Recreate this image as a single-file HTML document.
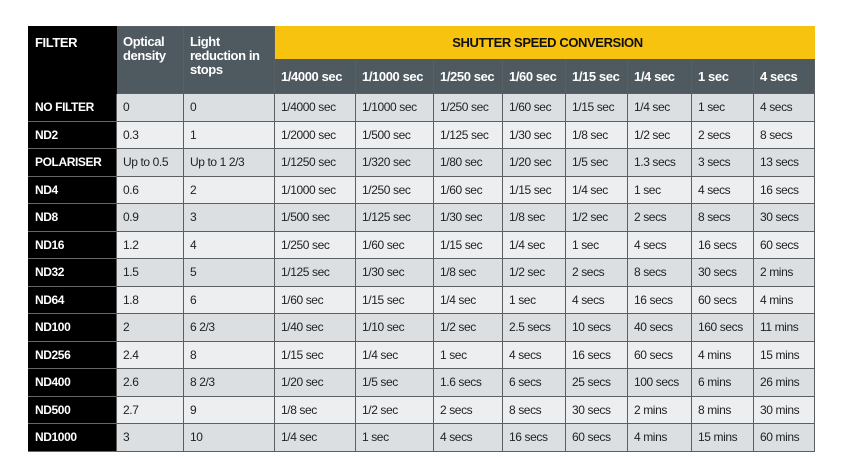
<!DOCTYPE html>
<html><head><meta charset="utf-8"><style>
body{margin:0;width:850px;height:472px;background:#fff;overflow:hidden;font-family:"Liberation Sans",sans-serif;}
table{position:absolute;left:28px;top:26px;border-collapse:collapse;table-layout:fixed;width:786px;}
td,th{padding:0 0 0 6px;font-size:12px;letter-spacing:-0.4px;color:#222;text-align:left;white-space:nowrap;overflow:hidden;border:1px solid #5c5f62;}
th{background:#4f5960;color:#fff;font-weight:bold;font-size:13px;vertical-align:middle;}
th.f{background:#000;vertical-align:top;padding-top:8px;font-size:13px;border-color:#000;}
th.g{vertical-align:top;padding-top:8px;line-height:14px;white-space:normal;}
th.y{background:#f7c30f;color:#111;text-align:center;height:31px;border-color:#f7c30f;}
tbody td.n{background:#000;color:#fff;font-weight:bold;border-left-color:#000;border-top-color:#666;border-bottom-color:#666;}
tbody tr{height:27.5px;}
tbody tr:nth-child(odd) td{background:#dcdfe2;}
tbody tr:nth-child(even) td{background:#eceef0;}
tbody tr td.n{background:#000 !important;}
</style></head><body>
<table>
<colgroup><col style="width:88px"><col style="width:67px"><col style="width:91px"><col style="width:81px"><col style="width:78px"><col style="width:69px"><col style="width:63px"><col style="width:62px"><col style="width:64px"><col style="width:62px"><col style="width:61px"></colgroup>
<thead>
<tr><th class="f" rowspan="2">FILTER</th>
<th class="g" rowspan="2">Optical density</th>
<th class="g" rowspan="2">Light reduction in stops</th>
<th class="y" colspan="8">SHUTTER SPEED CONVERSION</th></tr>
<tr style="height:35px"><th>1/4000 sec</th><th>1/1000 sec</th><th>1/250 sec</th><th>1/60 sec</th><th>1/15 sec</th><th>1/4 sec</th><th>1 sec</th><th>4 secs</th></tr>
</thead>
<tbody id="tb"></tbody>
</table>
<script>
const rows=[
["NO FILTER","0","0","1/4000 sec","1/1000 sec","1/250 sec","1/60 sec","1/15 sec","1/4 sec","1 sec","4 secs"],
["ND2","0.3","1","1/2000 sec","1/500 sec","1/125 sec","1/30 sec","1/8 sec","1/2 sec","2 secs","8 secs"],
["POLARISER","Up to 0.5","Up to 1 2/3","1/1250 sec","1/320 sec","1/80 sec","1/20 sec","1/5 sec","1.3 secs","3 secs","13 secs"],
["ND4","0.6","2","1/1000 sec","1/250 sec","1/60 sec","1/15 sec","1/4 sec","1 sec","4 secs","16 secs"],
["ND8","0.9","3","1/500 sec","1/125 sec","1/30 sec","1/8 sec","1/2 sec","2 secs","8 secs","30 secs"],
["ND16","1.2","4","1/250 sec","1/60 sec","1/15 sec","1/4 sec","1 sec","4 secs","16 secs","60 secs"],
["ND32","1.5","5","1/125 sec","1/30 sec","1/8 sec","1/2 sec","2 secs","8 secs","30 secs","2 mins"],
["ND64","1.8","6","1/60 sec","1/15 sec","1/4 sec","1 sec","4 secs","16 secs","60 secs","4 mins"],
["ND100","2","6 2/3","1/40 sec","1/10 sec","1/2 sec","2.5 secs","10 secs","40 secs","160 secs","11 mins"],
["ND256","2.4","8","1/15 sec","1/4 sec","1 sec","4 secs","16 secs","60 secs","4 mins","15 mins"],
["ND400","2.6","8 2/3","1/20 sec","1/5 sec","1.6 secs","6 secs","25 secs","100 secs","6 mins","26 mins"],
["ND500","2.7","9","1/8 sec","1/2 sec","2 secs","8 secs","30 secs","2 mins","8 mins","30 mins"],
["ND1000","3","10","1/4 sec","1 sec","4 secs","16 secs","60 secs","4 mins","15 mins","60 mins"]];
const tb=document.getElementById('tb');
rows.forEach(r=>{const tr=document.createElement('tr');


r.forEach((v,i)=>{const td=document.createElement('td');td.textContent=v;if(i===0)td.className='n';


tr.appendChild(td);});tb.appendChild(tr);});
</script>
</body></html>
